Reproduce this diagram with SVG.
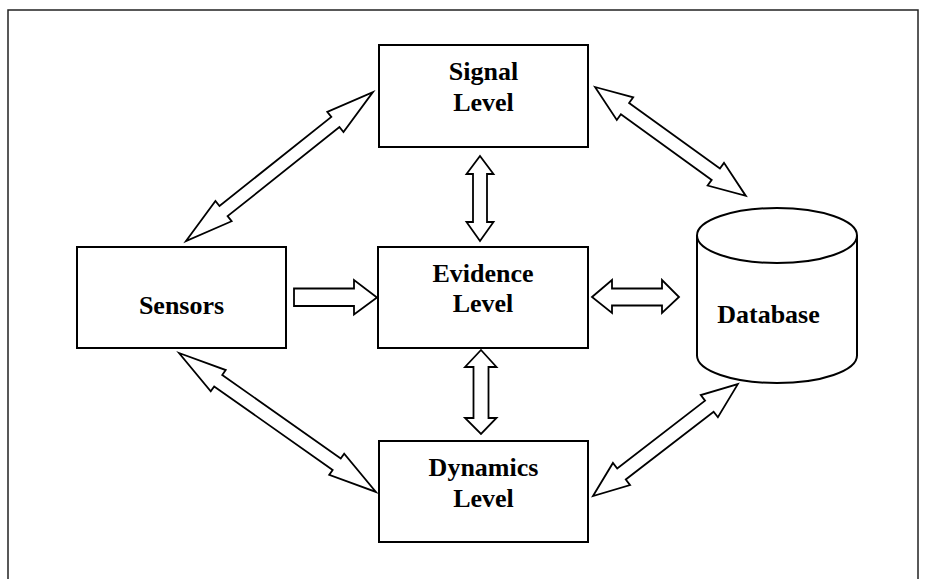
<svg xmlns="http://www.w3.org/2000/svg" width="928" height="579" viewBox="0 0 928 579">
<style>
.box{fill:#fff;stroke:#000;stroke-width:2}
.arr{fill:#fff;stroke:#000;stroke-width:1.8;stroke-linejoin:miter}
.lbl{font-family:"Liberation Serif","Times New Roman",serif;font-weight:bold;font-size:26px;fill:#000;text-anchor:middle}
</style>
<rect x="0" y="0" width="928" height="579" fill="#fff"/>
<rect x="8" y="10" width="910" height="590" fill="none" stroke="#222" stroke-width="1.5"/>
<g id="connectors">
<polygon class="arr" transform="translate(186,241) rotate(-38.55)" points="0,0 48,-13 48,-6.5 191,-6.5 191,-13 239,0 191,13 191,6.5 48,6.5 48,13"/>
<polygon class="arr" transform="translate(595,87) rotate(35.83)" points="0,0 37,-14 37,-7 149,-7 149,-14 186,0 149,14 149,7 37,7 37,14"/>
<polygon class="arr" transform="translate(179,353) rotate(35.21)" points="0,0 48,-13 48,-7 193,-7 193,-13 241,0 193,13 193,7 48,7 48,13"/>
<polygon class="arr" transform="translate(593,496) rotate(-37.68)" points="0,0 36,-14 36,-7 147,-7 147,-14 183,0 147,14 147,7 36,7 36,14"/>
<polygon class="arr" points="294,288.5 354,288.5 354,280 377,297.5 354,314.5 354,306 294,306"/>
<polygon class="arr" points="480,156 493.5,174 487,174 487,222 493.5,222 480,241 466.5,222 473,222 473,174 466.5,174"/>
<polygon class="arr" points="481,350 496.5,367 488.5,367 488.5,418 496.5,418 481,434 465,418 473.5,418 473.5,367 465,367"/>
<polygon class="arr" points="592,297 612,280 612,288.5 662,288.5 662,280 679,297 662,313 662,305.5 612,305.5 612,313"/>
</g>
<g id="signal">
<rect class="box" x="379" y="45" width="209" height="102"/>
<text class="lbl" x="483.5" y="80">Signal</text>
<text class="lbl" x="483.5" y="111">Level</text>
</g>
<g id="sensors">
<rect class="box" x="77" y="247" width="209" height="101"/>
<text class="lbl" x="181.5" y="314">Sensors</text>
</g>
<g id="evidence">
<rect class="box" x="378" y="247" width="210" height="101"/>
<text class="lbl" x="483" y="282">Evidence</text>
<text class="lbl" x="483" y="312">Level</text>
</g>
<g id="dynamics">
<rect class="box" x="379" y="441" width="209" height="101"/>
<text class="lbl" x="483.5" y="476">Dynamics</text>
<text class="lbl" x="483.5" y="507">Level</text>
</g>
<g id="database">
<path class="box" d="M697,235.5 L697,355.5 A80,27.5 0 0 0 857,355.5 L857,235.5"/>
<ellipse class="box" cx="777" cy="235.5" rx="80" ry="27.5"/>
<text class="lbl" x="768.5" y="323">Database</text>
</g>
</svg>
